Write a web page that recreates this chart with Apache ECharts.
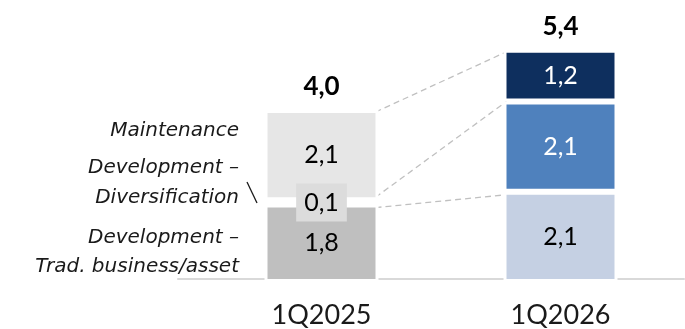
<!DOCTYPE html>
<html>
<head>
<meta charset="utf-8">
<script src="https://cdn.jsdelivr.net/npm/echarts@6/dist/echarts.min.js"></script>
<style>
  html, body { margin: 0; padding: 0; background: #fff; }
  #chart { width: 685px; height: 329px; }
</style>
</head>
<body>
<div id="chart"></div>
<script>
var categories = ['1Q2025', '1Q2026'];
var tradValues = [1.8, 2.1];
var diversValues = [0.1, 2.1];
var maintValues = [2.1, 1.2];
var totals = [4.0, 5.4];
var seriesNames = ['Development – Trad. business/asset', 'Development – Diversification', 'Maintenance'];

var tradColors = ['#bfbfbf', '#c5d0e3'];
var diversColors = ['#ffffff', '#4f81bd'];
var maintColors = ['#e6e6e6', '#0e2f5e'];

function fmt(v) {
    return v.toFixed(1).replace('.', ',');
}

function items(values, colors, textColors) {
    return values.map(function (v, i) {
        return {
            value: v,
            itemStyle: { color: colors[i] },
            label: { color: textColors[i] }
        };
    });
}

var chart = echarts.init(document.getElementById('chart'));

var barBase = {
    type: 'bar',
    stack: 'capex',
    barWidth: 114,
    xAxisIndex: 0,
    yAxisIndex: 0,
    itemStyle: { borderColor: '#ffffff', borderWidth: 3 },
    label: {
        show: true,
        position: 'inside',
        fontFamily: 'Lato',
        fontSize: 25,
        formatter: function (p) { return fmt(p.value); }
    }
};

var tradSeries = echarts.util.merge({ name: seriesNames[0], data: items(tradValues, tradColors, ['#000', '#000']) }, barBase);
var diversSeries = echarts.util.merge({ name: seriesNames[1], data: items(diversValues, diversColors, ['#000', '#fff']) }, barBase);
var maintSeries = echarts.util.merge({ name: seriesNames[2], data: items(maintValues, maintColors, ['#000', '#fff']) }, barBase);

// the small 0,1 gets a grey box
diversSeries.data[0].label = {
    color: '#000',
    backgroundColor: '#dcdcdc',
    padding: [7, 8, 6, 8]
};

var option = {
    animation: false,
    grid: [
        { left: 202, right: 5, top: 24, bottom: 46 },
        { left: 178, right: 1, top: 24, bottom: 50 }
    ],
    xAxis: [
        {
            type: 'category',
            gridIndex: 0,
            data: categories,
            axisLine: { show: false },
            axisTick: { show: false },
            axisLabel: { fontFamily: 'Lato', fontSize: 27, color: '#1a1a1a', margin: 20 }
        },
        {
            type: 'value',
            gridIndex: 1,
            min: 0, max: 1,
            axisLine: { show: true, lineStyle: { color: '#d9d9d9', width: 2 } },
            axisTick: { show: false },
            axisLabel: { show: false },
            splitLine: { show: false }
        }
    ],
    yAxis: [
        { type: 'value', gridIndex: 0, min: 0, max: 6, show: false },
        { type: 'value', gridIndex: 1, min: 0, max: 6, show: false }
    ],
    series: [
        tradSeries,
        diversSeries,
        maintSeries,
        {
            name: 'Total',
            type: 'bar',
            stack: 'capex',
            barWidth: 114,
            data: totals.map(function () { return 0; }),
            itemStyle: { color: 'transparent' },
            label: {
                show: true,
                position: 'top',
                distance: 10,
                fontFamily: 'Lato',
                fontWeight: 'bold',
                fontSize: 26,
                color: '#000',
                formatter: function (p) { return fmt(totals[p.dataIndex]); }
            }
        }
    ]
};

chart.setOption(option);

// dashed connectors between the two bars
var half = 54;
function px(i, v) { return chart.convertToPixel({ gridIndex: 0 }, [i, v]); }
var lowA = tradValues[0];
var midA = tradValues[0] + diversValues[0];
var topA = totals[0];
var lowB = tradValues[1];
var midB = tradValues[1] + diversValues[1];
var topB = totals[1];
var pairs = [
    [px(0, topA), px(1, topB), 2, 2],
    [px(0, midA), px(1, midB), -3, 0],
    [px(0, lowA), px(1, lowB), 3, 3]
];
var graphics = pairs.map(function (p) {
    return {
        type: 'line',
        shape: { x1: p[0][0] + half, y1: p[0][1] + p[2], x2: p[1][0] - half, y2: p[1][1] + p[3] },
        style: { stroke: '#c0c0c0', lineWidth: 1.3, lineDash: [6, 4] },
        z: 1
    };
});

// left-hand series labels
var textStyle = { fontFamily: 'DejaVu Sans', fontStyle: 'italic', fontSize: 20, fill: '#1a1a1a', align: 'right', verticalAlign: 'middle' };
var legendTexts = [
    ['Maintenance', 131],
    ['Development –', 168],
    ['Diversification', 198],
    ['Development –', 238],
    ['Trad. business/asset', 267]
];
legendTexts.forEach(function (t) {
    graphics.push({
        type: 'text',
        x: 239, y: t[1],
        style: echarts.util.extend({ text: t[0] }, textStyle)
    });
});
graphics.push({
    type: 'line',
    shape: { x1: 247, y1: 182, x2: 257, y2: 203 },
    style: { stroke: '#1a1a1a', lineWidth: 1.3 }
});

chart.setOption({ graphic: graphics });
</script>
</body>
</html>
